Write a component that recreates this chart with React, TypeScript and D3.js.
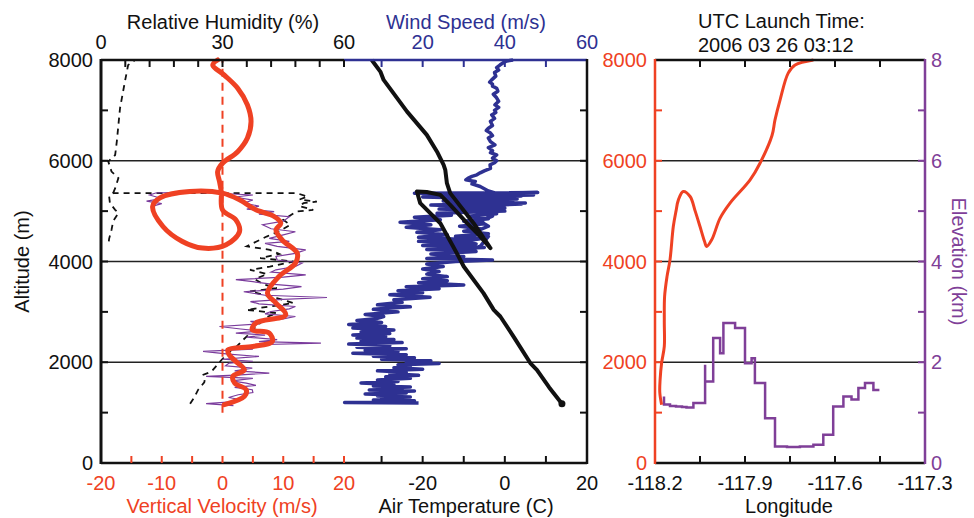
import * as d3 from "d3";

// altitude (m), vertical velocity smoothed (m/s), in time order (ascent, descent loop, re-ascent)
const vvSmooth: [number, number][] = [
  [1157, 0.3], [1321, 3.6], [1455, 3.9], [1587, 2], [1720, 1.7], [1850, 3.6], [2015, 2.2],
  [2148, 1.1], [2248, 0.9], [2313, 5], [2413, 8.2], [2578, 7.7], [2645, 4.9], [2780, 5.5],
  [2940, 10.4], [3175, 8.8], [3373, 7.4], [3703, 9.3], [3968, 12], [4166, 12.3], [4430, 9.8],
  [4628, 8.8], [4760, 9.6], [4893, 8.5], [5025, 5.5], [5224, 2.8], [5357, 0], [5390, -5.4],
  [5263, -10.3], [5092, -11.5], [4695, -9.8], [4397, -6.6], [4266, -3.3], [4332, 0.6],
  [4595, 2.8], [4827, 2.2], [5025, 0], [5390, -0.2], [5590, -0.5], [5785, -0.8], [5950, 0],
  [6180, 2.5], [6450, 4.1], [6780, 4.7], [7110, 4.1], [7440, 2.5], [7700, 0.3], [7900, -1.6],
  [8000, -0.8],
];

// raw vertical velocity (thin purple)
const vvRaw: [number, number][] = [
  [1140, 1.8], [1177, -2.7], [1220, 2], [1256, 3.1], [1300, 1], [1355, 2.6], [1400, 5],
  [1455, 4.9], [1500, 2], [1540, 5.5], [1587, 3.9], [1630, 1.5], [1680, 5], [1720, -2.7],
  [1750, 3], [1786, 7.7], [1830, 2], [1885, 4.9], [1930, 0.5], [1984, 1.1], [2020, 5],
  [2060, 0], [2115, 6], [2160, 1], [2215, -3.2], [2260, 5], [2300, 3], [2347, 5.5],
  [2380, 16.2], [2410, 6], [2450, 9], [2500, 4], [2540, 7], [2578, 2.2], [2620, 6],
  [2660, 3], [2710, -0.5], [2760, 6], [2810, 4.6], [2860, 10], [2908, 12], [2960, 7],
  [3008, 8], [3060, 11], [3107, 12], [3160, 6], [3205, 4.6], [3250, 10], [3285, 17.2],
  [3330, 7], [3370, 5], [3400, 3.5], [3450, 10], [3500, 13], [3550, 8], [3600, 5],
  [3640, 2.2], [3690, 10], [3735, 13.7], [3790, 8], [3835, 8.8], [3900, 12], [3970, 13.1],
  [4030, 9], [4100, 8.8], [4160, 12], [4230, 13.7], [4300, 9], [4360, 7], [4400, 11],
  [4460, 7.7], [4530, 10], [4590, 12], [4650, 8], [4730, 6.6], [4800, 10], [4890, 11],
  [4940, 6], [4990, 8.5], [5040, 4], [5100, 6], [5160, 3.5], [5220, 5], [5280, 2],
  [5320, 5], [5350, 0], [5380, -6], [5360, -11], [5320, -12], [5250, -10], [5200, -12.5],
  [5150, -10], [5100, -11.5],
];

// relative humidity (%) : ascent, jump and descent branch
const rhLower: [number, number][] = [
  [1177, 22], [1300, 23], [1455, 24], [1600, 25.5], [1687, 25.7], [1752, 25.3], [1817, 27.3],
  [2015, 29.4], [2148, 31], [2281, 32.7], [2313, 33.5], [2446, 35.1], [2512, 36], [2650, 37.5],
  [2778, 39.3], [2900, 41], [2976, 43.4], [3040, 36], [3107, 41.7], [3175, 47.5], [3274, 43.4],
  [3405, 36.8], [3472, 43.4], [3550, 40], [3650, 38], [3750, 41], [3835, 36.8], [3900, 41.7],
  [4000, 47.5], [4067, 39.3], [4150, 44], [4232, 41.7], [4300, 36], [4397, 38.4], [4495, 40.9],
  [4600, 44], [4728, 46.7], [4827, 45], [4992, 48.3], [5025, 52.4], [5100, 49], [5158, 50],
  [5190, 53.3], [5230, 49], [5290, 51], [5357, 48.3], [5357, 3], [5300, 2], [5160, 2.2],
  [5025, 3.5], [4960, 4.3], [4800, 3], [4630, 2.6], [4450, 2], [4300, 1.8],
];
const rhUpper: [number, number][] = [
  [5357, 3], [5455, 3.5], [5655, 4.3], [5785, 2.6], [5985, 1.8], [6115, 3.5], [6380, 3.9],
  [7045, 4.7], [7570, 5.9], [7900, 6.7], [8000, 8.4],
];

// air temperature (C)
const temp: [number, number][] = [
  [1177, 13.9], [1500, 10.8], [1850, 7.8], [1984, 6.2], [2500, 2.2], [2908, -1.1], [3040, -2.7],
  [3373, -5.2], [3900, -10], [4166, -11.7], [4760, -15.7], [5158, -20.6], [5390, -21.4],
  [5380, -19], [5323, -15.7], [5125, -13.3], [4760, -9.2], [4497, -6], [4266, -3.5],
  [4760, -7.6], [5357, -13.3], [5555, -14.1], [5820, -14.5], [5918, -14.9], [6180, -16.5],
  [6513, -19], [6976, -23.8], [7605, -29.5], [7770, -30.3], [8000, -32.4],
];

// wind speed (m/s)
const wind: [number, number][] = [
  [1190, 19], [1200, 1], [1215, 12], [1235, 18], [1250, 8], [1270, 16], [1290, 10], [1310, 17],
  [1330, 9], [1350, 14], [1370, 6], [1390, 16], [1410, 11], [1430, 18], [1450, 7], [1470, 15],
  [1490, 10], [1510, 17], [1530, 8], [1560, 13], [1590, 5], [1620, 14], [1650, 9], [1680, 17],
  [1710, 11], [1740, 19], [1770, 12], [1800, 16], [1830, 9], [1860, 20], [1890, 13], [1920, 17],
  [1950, 14], [1975, 24], [2000, 16], [2030, 22], [2060, 10], [2090, 18], [2120, 8], [2150, 16],
  [2180, 3], [2210, 14], [2240, 6], [2270, 16], [2300, 4], [2330, 12], [2360, 2], [2390, 15],
  [2420, 5], [2450, 13], [2480, 4], [2510, 11], [2540, 3], [2570, 12], [2600, 5], [2640, 13],
  [2680, 3], [2710, 11], [2750, 2], [2790, 10], [2830, 4], [2870, 9], [2908, 10.5], [2950, 6],
  [3000, 14], [3050, 8], [3100, 17], [3140, 9], [3190, 15], [3240, 13], [3290, 21.8], [3340, 12],
  [3380, 20], [3420, 14], [3460, 24], [3500, 16], [3535, 30], [3580, 19], [3620, 26], [3660, 20],
  [3700, 26], [3750, 21], [3800, 24], [3850, 20], [3900, 25], [3950, 21], [4000, 28], [4030, 37],
  [4060, 21], [4100, 30], [4150, 22], [4200, 33], [4240, 21], [4280, 35], [4320, 20], [4360, 31],
  [4400, 19], [4430, 30.8], [4480, 19], [4530, 26], [4580, 18.6], [4630, 24.3], [4680, 16],
  [4730, 22], [4780, 14.5], [4830, 24.3], [4880, 18], [4920, 27], [4960, 23.5], [5000, 40],
  [5040, 24], [5080, 37], [5120, 22], [5160, 45], [5200, 25], [5240, 43], [5280, 20],
  [5320, 47], [5357, 18], [5370, 48], [5340, 30], [5300, 44], [5260, 33], [5220, 42],
  [5180, 35], [5140, 44], [5100, 32], [5060, 40], [5000, 34], [4950, 38], [4900, 31],
  [4850, 36], [4800, 30], [4750, 35], [4700, 29], [4650, 34], [4600, 30], [4550, 36],
  [4500, 28], [4450, 34], [4400, 30], [4350, 33], [4300, 29], [4266, 33], [4300, 34],
  [4400, 35], [4500, 36], [4600, 33], [4700, 36], [4800, 34], [4900, 37], [5000, 35],
  [5100, 38], [5200, 36], [5300, 40], [5400, 36], [5488, 34], [5540, 32], [5590, 32.8],
  [5620, 30.5], [5650, 31], [5690, 32], [5720, 33.2], [5760, 34], [5800, 35], [5850, 36.5],
  [5918, 36.4], [5960, 37.5], [6000, 38], [6050, 37], [6115, 38], [6160, 36.5], [6200, 37],
  [6260, 36], [6315, 37.6], [6380, 36.5], [6450, 36], [6500, 37], [6550, 36.5], [6600, 35.5],
  [6645, 36], [6700, 37], [6780, 36.5], [6840, 37.5], [6910, 36.8], [6960, 37.8], [7000, 37.5],
  [7060, 38.5], [7110, 37.6], [7180, 38.5], [7250, 38], [7320, 37.2], [7380, 38.3], [7440, 38],
  [7480, 37], [7520, 37], [7560, 36.3], [7605, 36.8], [7680, 37.8], [7750, 37.5], [7800, 38.5],
  [7850, 38], [7900, 38.8], [7950, 39.7], [7980, 40.5], [8000, 42],
];

// balloon track: longitude, altitude (m)
const track: [number, number][] = [
  [-118.178, 1157], [-118.184, 1400], [-118.183, 1653], [-118.178, 1984], [-118.169, 2313],
  [-118.169, 2800], [-118.168, 3305], [-118.16, 3700], [-118.15, 4033], [-118.139, 4694],
  [-118.13, 5000], [-118.122, 5224], [-118.106, 5390], [-118.083, 5290], [-118.066, 5000],
  [-118.05, 4694], [-118.035, 4400], [-118.028, 4297], [-118.011, 4430], [-117.983, 4860],
  [-117.95, 5158], [-117.883, 5620], [-117.85, 5951], [-117.81, 6500], [-117.8, 6810],
  [-117.783, 7210], [-117.756, 7740], [-117.733, 7900], [-117.672, 8000],
];

// terrain elevation (km) under the track, longitude
const terrain: [number, number][] = [
  [-118.17, 1.32], [-118.17, 1.16], [-118.15, 1.13], [-118.13, 1.12], [-118.11, 1.11],
  [-118.095, 1.1], [-118.072, 1.19], [-118.033, 1.95], [-118.033, 1.62], [-118.006, 2.48],
  [-117.983, 2.18], [-117.972, 2.78], [-117.933, 2.68], [-117.9, 1.98], [-117.878, 2.08],
  [-117.867, 1.59], [-117.833, 0.89], [-117.8, 0.33], [-117.76, 0.32], [-117.717, 0.33],
  [-117.672, 0.36], [-117.639, 0.56], [-117.606, 1.12], [-117.572, 1.32], [-117.545, 1.26],
  [-117.522, 1.49], [-117.5, 1.59], [-117.472, 1.45], [-117.452, 1.45],
];

const altTicks = [0, 2000, 4000, 6000, 8000];
const altGrid = [2000, 4000, 6000];
const rhLabels = [0, 30, 60];
const windLabels = [20, 40, 60];
const vvLabels = [-20, -10, 0, 10, 20];
const tempLabels = [-20, 0, 20];
const lonLabels = [-118.2, -117.9, -117.6, -117.3];
const elevLabels = [0, 2, 4, 6, 8];

const RED = "#ef4123";
const BLUE = "#2e3192";
const PURPLE = "#7f3f98";
const FONT = "'Liberation Sans', Arial, Helvetica, sans-serif";

const App = () => {
  const top = 60, bottom = 463;
  const L0 = 101, L1 = 587, Lmid = 344;
  const R0 = 655, R1 = 925;

  const y = d3.scaleLinear().domain([0, 8000]).range([bottom, top]);
  const xVV = d3.scaleLinear().domain([-20, 20]).range([L0, Lmid]);
  const xRH = d3.scaleLinear().domain([0, 60]).range([L0, Lmid]);
  const xT = d3.scaleLinear().domain([-40, 20]).range([340.5, L1]);
  const xW = d3.scaleLinear().domain([0, 60]).range([340.5, L1]);
  const xLon = d3.scaleLinear().domain([-118.2, -117.3]).range([R0, R1]);
  const yEl = d3.scaleLinear().domain([0, 8]).range([bottom, top]);

  const lineVV = d3.line<[number, number]>().x(d => xVV(d[1])).y(d => y(d[0]));
  const lineRH = d3.line<[number, number]>().x(d => xRH(d[1])).y(d => y(d[0]));
  const lineT = d3.line<[number, number]>().x(d => xT(d[1])).y(d => y(d[0]));
  const lineW = d3.line<[number, number]>().x(d => xW(d[1])).y(d => y(d[0]));
  const lineTrack = d3.line<[number, number]>().x(d => xLon(d[0])).y(d => y(d[1])).curve(d3.curveCatmullRom.alpha(0.5));
  const lineTerrain = d3.line<[number, number]>().x(d => xLon(d[0])).y(d => yEl(d[1])).curve(d3.curveStepAfter);

  const alt1000 = d3.range(1000, 8000, 1000);
  const tk = 7;

  return (
    <svg width={974} height={518} style={{ position: "absolute", left: 0, top: 0, background: "#fff" }} fontFamily={FONT} fontSize={20}>
      {/* grid */}
      {altGrid.map(a => <line key={"gl" + a} x1={L0} x2={L1} y1={y(a)} y2={y(a)} stroke="#222" strokeWidth={1.3} />)}
      {altGrid.map(a => <line key={"gr" + a} x1={R0} x2={R1} y1={y(a)} y2={y(a)} stroke="#222" strokeWidth={1.3} />)}

      {/* left panel series */}
      <path d={lineRH(rhLower) ?? ""} fill="none" stroke="#111" strokeWidth={1.8} strokeDasharray="6,5" />
      <path d={lineRH(rhUpper) ?? ""} fill="none" stroke="#111" strokeWidth={1.8} strokeDasharray="6,5" />
      <path d={lineVV(vvRaw) ?? ""} fill="none" stroke="#7a3b9c" strokeWidth={1.2} />
      <line x1={xVV(0)} x2={xVV(0)} y1={y(1000)} y2={y(8000)} stroke={RED} strokeWidth={2} strokeDasharray="8,6" />
      <path d={lineVV.curve(d3.curveCatmullRom.alpha(0.5))(vvSmooth) ?? ""} fill="none" stroke={RED} strokeWidth={5} strokeLinejoin="round" strokeLinecap="round" />
      <path d={lineW(wind) ?? ""} fill="none" stroke={BLUE} strokeWidth={3.5} strokeLinejoin="round" />
      <path d={lineT(temp) ?? ""} fill="none" stroke="#111" strokeWidth={4} strokeLinejoin="round" />
      <circle cx={xT(temp[0][1])} cy={y(temp[0][0])} r={3.5} fill="#111" />

      {/* left panel frame */}
      <line x1={L0} x2={L1} y1={bottom} y2={bottom} stroke="#111" strokeWidth={2.5} />
      <line x1={L0} x2={Lmid} y1={top} y2={top} stroke="#111" strokeWidth={2.5} />
      <line x1={Lmid} x2={L1} y1={top} y2={top} stroke={BLUE} strokeWidth={2.5} />
      <line x1={L0} x2={L0} y1={top - 1} y2={bottom + 1} stroke="#111" strokeWidth={3} />
      <line x1={L1} x2={L1} y1={top - 1} y2={bottom + 1} stroke="#111" strokeWidth={2.5} />
      {alt1000.map(a => <line key={"lt" + a} x1={L0} x2={L0 + tk} y1={y(a)} y2={y(a)} stroke="#111" strokeWidth={2} />)}
      {alt1000.map(a => <line key={"rt" + a} x1={L1 - tk} x2={L1} y1={y(a)} y2={y(a)} stroke="#111" strokeWidth={2} />)}
      {d3.range(6, 61, 6).map(v => <line key={"rh" + v} x1={xRH(v)} x2={xRH(v)} y1={top} y2={top + tk} stroke="#111" strokeWidth={2} />)}
      {d3.range(10, 51, 10).map(v => <line key={"w" + v} x1={xW(v)} x2={xW(v)} y1={top} y2={top + tk} stroke={BLUE} strokeWidth={2} />)}
      {d3.range(-15, 21, 5).map(v => <line key={"vv" + v} x1={xVV(v)} x2={xVV(v)} y1={bottom} y2={bottom - tk} stroke={RED} strokeWidth={2} />)}
      {d3.range(-30, 11, 10).map(v => <line key={"t" + v} x1={xT(v)} x2={xT(v)} y1={bottom} y2={bottom - tk} stroke="#111" strokeWidth={2} />)}

      {/* left panel labels */}
      {altTicks.map(a => <text key={"la" + a} x={93} y={y(a) + 7} textAnchor="end" fill="#111">{a}</text>)}
      {rhLabels.map(v => <text key={"lr" + v} x={xRH(v)} y={49} textAnchor="middle" fill="#111">{v}</text>)}
      {windLabels.map(v => <text key={"lw" + v} x={xW(v)} y={49} textAnchor="middle" fill={BLUE}>{v}</text>)}
      {vvLabels.map(v => <text key={"lv" + v} x={xVV(v)} y={490} textAnchor="middle" fill={RED}>{v}</text>)}
      {tempLabels.map(v => <text key={"lt" + v} x={xT(v)} y={490} textAnchor="middle" fill="#111">{v}</text>)}
      <text x={223} y={29} textAnchor="middle" fill="#111">Relative Humidity (%)</text>
      <text x={466} y={29} textAnchor="middle" fill={BLUE}>Wind Speed (m/s)</text>
      <text x={222} y={513} textAnchor="middle" fill={RED}>Vertical Velocity (m/s)</text>
      <text x={466} y={513} textAnchor="middle" fill="#111">Air Temperature (C)</text>
      <text transform={`translate(29,${y(4000)}) rotate(-90)`} textAnchor="middle" fill="#111">Altitude (m)</text>

      {/* right panel series */}
      <path d={lineTerrain(terrain) ?? ""} fill="none" stroke={PURPLE} strokeWidth={2.5} />
      <path d={lineTrack(track) ?? ""} fill="none" stroke={RED} strokeWidth={3} />

      {/* right panel frame */}
      <line x1={R0} x2={R1} y1={top} y2={top} stroke="#111" strokeWidth={2.5} />
      <line x1={R0} x2={R1} y1={bottom} y2={bottom} stroke="#111" strokeWidth={2.5} />
      <line x1={R0} x2={R0} y1={top - 1} y2={bottom + 1} stroke={RED} strokeWidth={2.5} />
      <line x1={R1} x2={R1} y1={top - 1} y2={bottom + 1} stroke={PURPLE} strokeWidth={2.5} />
      {alt1000.map(a => <line key={"rlt" + a} x1={R0} x2={R0 + tk} y1={y(a)} y2={y(a)} stroke={RED} strokeWidth={2} />)}
      {d3.range(1, 8).map(v => <line key={"ret" + v} x1={R1 - tk} x2={R1} y1={yEl(v)} y2={yEl(v)} stroke={PURPLE} strokeWidth={2} />)}
      {d3.range(1, 6).map(i => -118.2 + i * 0.15).map(v => (
        <g key={"lon" + v}>
          <line x1={xLon(v)} x2={xLon(v)} y1={top} y2={top + tk} stroke="#111" strokeWidth={2} />
          <line x1={xLon(v)} x2={xLon(v)} y1={bottom} y2={bottom - tk} stroke="#111" strokeWidth={2} />
        </g>
      ))}

      {/* right panel labels */}
      {altTicks.map(a => <text key={"ra" + a} x={647} y={y(a) + 7} textAnchor="end" fill={RED}>{a}</text>)}
      {elevLabels.map(v => <text key={"re" + v} x={931} y={yEl(v) + 7} textAnchor="start" fill={PURPLE}>{v}</text>)}
      {lonLabels.map(v => <text key={"rl" + v} x={xLon(v)} y={490} textAnchor="middle" fill="#111">{v.toFixed(1)}</text>)}
      <text x={789} y={513} textAnchor="middle" fill="#111">Longitude</text>
      <text x={698} y={28} fill="#111">UTC Launch Time:</text>
      <text x={698} y={52} fill="#111">2006 03 26 03:12</text>
      <text transform={`translate(952,${y(4000)}) rotate(90)`} textAnchor="middle" fill={PURPLE}>Elevation (km)</text>
    </svg>
  );
};

export default App;
